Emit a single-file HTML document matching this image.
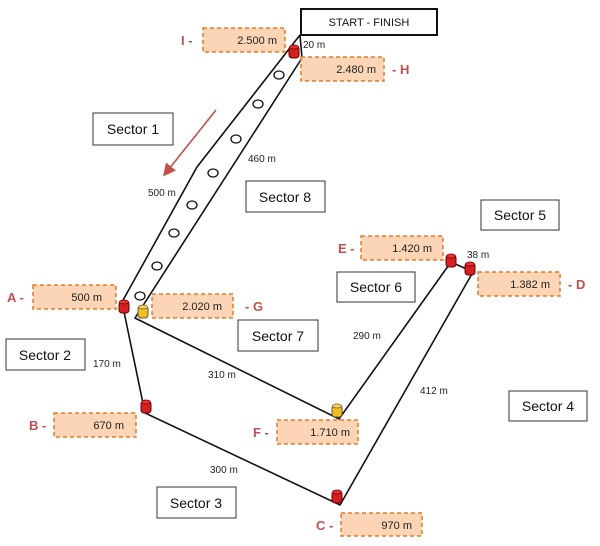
<!DOCTYPE html>
<html><head><meta charset="utf-8"><style>
body{margin:0;background:#fff}
svg{display:block;font-family:"Liberation Sans",sans-serif}
.lb{fill:#fbd5b5;stroke:#e07b2a;stroke-width:1.5;stroke-dasharray:4 3}
.sb{fill:#fff;stroke:#333;stroke-width:1}
.st{font-size:14px;fill:#111}
.v{font-size:11px;fill:#222;text-anchor:end}
.k{font-size:13px;fill:#c0504d;font-weight:bold}
.d{font-size:10px;fill:#222}
.ln{fill:none;stroke:#111;stroke-width:1.6}
</style></head><body>
<svg width="600" height="546" viewBox="0 0 600 546">
<defs>
<g id="rc"><rect x="-5" y="-6" width="10" height="12" rx="3" fill="#d42020" stroke="#600" stroke-width="1"/><ellipse cx="0" cy="-5" rx="4.5" ry="2" fill="#f03030" stroke="#600" stroke-width="0.7"/></g>
<g id="yc"><rect x="-5" y="-6" width="10" height="12" rx="3" fill="#f0c020" stroke="#654" stroke-width="1"/><ellipse cx="0" cy="-5" rx="4.5" ry="2" fill="#f8d850" stroke="#654" stroke-width="0.7"/></g>
<marker id="ar" markerWidth="8" markerHeight="8" refX="6" refY="4" orient="auto"><path d="M0,0 L8,4 L0,8 z" fill="#c0504d"/></marker>
</defs>
<!-- course -->
<polyline class="ln" points="300,35 197,167 122,302 145,413 340,505 473,272 451,262"/>
<polyline class="ln" points="302,58 135,318 339,419 451,262"/>
<line class="ln" x1="300" y1="35" x2="302" y2="58" stroke-width="0"/>
<!-- circles -->
<g fill="#fff" stroke="#111" stroke-width="1.3">
<ellipse cx="279" cy="75" rx="5" ry="4"/><ellipse cx="258" cy="104" rx="5" ry="4"/><ellipse cx="236" cy="139" rx="5" ry="4"/><ellipse cx="213" cy="173" rx="5" ry="4"/><ellipse cx="192" cy="205" rx="5" ry="4"/><ellipse cx="174" cy="233" rx="5" ry="4"/><ellipse cx="157" cy="266" rx="5" ry="4"/><ellipse cx="140" cy="296" rx="5" ry="4"/>
</g>
<!-- cones -->
<use href="#rc" x="294" y="52"/><use href="#rc" x="124" y="307"/><use href="#yc" x="143" y="312"/><use href="#rc" x="146" y="407"/><use href="#rc" x="337" y="497"/><use href="#yc" x="337" y="411"/><use href="#rc" x="451" y="261"/><use href="#rc" x="470" y="269"/>
<!-- arrow -->
<line x1="216" y1="110" x2="165" y2="174" stroke="#c0504d" stroke-width="1.6" marker-end="url(#ar)"/>
<!-- start -->
<rect x="301" y="9" width="136" height="26" fill="#fff" stroke="#111" stroke-width="2"/>
<text x="369" y="26" font-size="11" text-anchor="middle" fill="#111">START - FINISH</text>
<!-- label boxes -->
<rect class="lb" x="203" y="28" width="82" height="24"/><text class="v" x="277" y="44">2.500 m</text><text class="k" x="181" y="45">I -</text>
<rect class="lb" x="301" y="57" width="83" height="24"/><text class="v" x="376" y="73">2.480 m</text><text class="k" x="392" y="74">- H</text>
<rect class="lb" x="33" y="285" width="83" height="24"/><text class="v" x="102" y="301">500 m</text><text class="k" x="7" y="302">A -</text>
<rect class="lb" x="152" y="294" width="81" height="24"/><text class="v" x="222" y="310">2.020 m</text><text class="k" x="245" y="311">- G</text>
<rect class="lb" x="54" y="413" width="82" height="24"/><text class="v" x="124" y="429">670 m</text><text class="k" x="29" y="430">B -</text>
<rect class="lb" x="277" y="420" width="81" height="24"/><text class="v" x="350" y="436">1.710 m</text><text class="k" x="253" y="437">F -</text>
<rect class="lb" x="361" y="236" width="82" height="24"/><text class="v" x="432" y="252">1.420 m</text><text class="k" x="338" y="253">E -</text>
<rect class="lb" x="478" y="272" width="82" height="24"/><text class="v" x="550" y="288">1.382 m</text><text class="k" x="568" y="289">- D</text>
<rect class="lb" x="341" y="513" width="81" height="23"/><text class="v" x="412" y="529">970 m</text><text class="k" x="316" y="530">C -</text>
<!-- sectors -->
<rect class="sb" x="93" y="113" width="80" height="32"/><text class="st" x="133" y="134" text-anchor="middle">Sector 1</text>
<rect class="sb" x="246" y="181" width="79" height="31"/><text class="st" x="285" y="202" text-anchor="middle">Sector 8</text>
<rect class="sb" x="481" y="200" width="78" height="30"/><text class="st" x="520" y="220" text-anchor="middle">Sector 5</text>
<rect class="sb" x="337" y="272" width="78" height="30"/><text class="st" x="376" y="292" text-anchor="middle">Sector 6</text>
<rect class="sb" x="238" y="320" width="80" height="31"/><text class="st" x="278" y="341" text-anchor="middle">Sector 7</text>
<rect class="sb" x="6" y="339" width="79" height="31"/><text class="st" x="45" y="360" text-anchor="middle">Sector 2</text>
<rect class="sb" x="509" y="391" width="78" height="30"/><text class="st" x="548" y="411" text-anchor="middle">Sector 4</text>
<rect class="sb" x="157" y="487" width="79" height="31"/><text class="st" x="196" y="508" text-anchor="middle">Sector 3</text>
<!-- distances -->
<text class="d" x="303" y="48">20 m</text>
<text class="d" x="248" y="162">460 m</text>
<text class="d" x="148" y="196">500 m</text>
<text class="d" x="93" y="367">170 m</text>
<text class="d" x="208" y="378">310 m</text>
<text class="d" x="353" y="339">290 m</text>
<text class="d" x="467" y="258">38 m</text>
<text class="d" x="420" y="394">412 m</text>
<text class="d" x="210" y="473">300 m</text>
</svg>
</body></html>
